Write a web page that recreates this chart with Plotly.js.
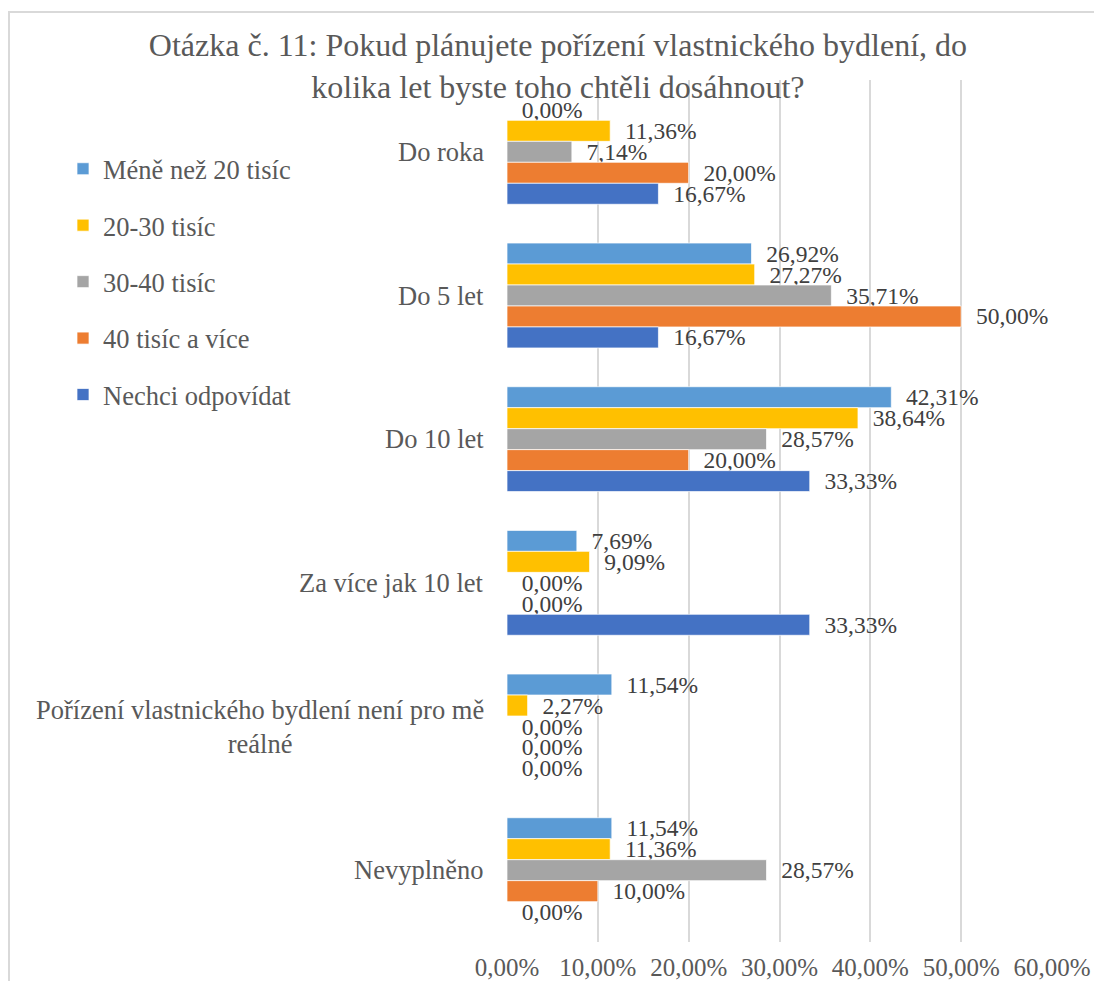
<!DOCTYPE html>
<html><head><meta charset="utf-8">
<script src="https://cdn.plot.ly/plotly-3.0.1.min.js"></script>
<style>
html,body{margin:0;padding:0;background:#fff;overflow:hidden;width:1094px;height:981px}
#frame{position:absolute;left:8px;top:11px;width:1110px;height:1010px;border:2px solid #d9d9d9;box-sizing:border-box}
#chart{position:absolute;left:0;top:0;width:1094px;height:981px}
</style></head><body>
<div id="frame"></div><div id="chart"></div>
<script>
const categories = ["Do roka", "Do 5 let", "Do 10 let", "Za více jak 10 let", "Pořízení vlastnického bydlení není pro mě reálné", "Nevyplněno"];
const categoryLabels = ["Do roka", "Do 5 let", "Do 10 let", "Za více jak 10 let", "Pořízení vlastnického bydlení není pro mě<br>reálné", "Nevyplněno"];
const seriesNames = ["Méně než 20 tisíc", "20-30 tisíc", "30-40 tisíc", "40 tisíc a více", "Nechci odpovídat"];
const seriesColors = ["#5B9BD5", "#FFC000", "#A5A5A5", "#ED7D31", "#4472C4"];
const mene20 = [0.00, 26.92, 42.31, 7.69, 11.54, 11.54];
const t20_30 = [11.36, 27.27, 38.64, 9.09, 2.27, 11.36];
const t30_40 = [7.14, 35.71, 28.57, 0.00, 0.00, 28.57];
const t40plus = [20.00, 50.00, 20.00, 0.00, 0.00, 10.00];
const nechci = [16.67, 16.67, 33.33, 33.33, 0.00, 0.00];
const xTicks = [0, 10, 20, 30, 40, 50, 60];

const seriesValues = [mene20, t20_30, t30_40, t40plus, nechci];
const fmt = v => v.toFixed(2).replace('.', ',') + '%';
const FONT = 'Liberation Serif';

const traces = seriesValues.map((vals, i) => ({
  type: 'bar',
  orientation: 'h',
  name: seriesNames[i],
  legendgroup: 'g' + i,
  x: vals,
  y: categories,
  marker: {color: seriesColors[i], line: {color: 'rgba(255,255,255,0.7)', width: 1}},
  text: vals.map(v => '\u00a0\u00a0' + fmt(v)),
  textposition: 'outside',
  constraintext: 'none',
  cliponaxis: false,
  textfont: {family: FONT, size: 23.5, color: '#404040'},
  hoverinfo: 'x+y+name'
}));

const annotations = categories.map((c, i) => ({
  xref: 'paper', yref: 'y', x: 0, y: c,
  xanchor: 'right', yanchor: 'middle', xshift: -21,
  text: categoryLabels[i], align: 'center', showarrow: false,
  font: {family: FONT, size: 26.5, color: '#595959'}
}));

const layout = {
  width: 1094, height: 981,
  paper_bgcolor: 'rgba(0,0,0,0)', plot_bgcolor: 'rgba(0,0,0,0)',
  margin: {l: 507, r: 42, t: 80, b: 39},
  barmode: 'group', bargap: 0.27, bargroupgap: 0,
  title: {
    text: 'Otázka č. 11: Pokud plánujete pořízení vlastnického bydlení, do<br>kolika let byste toho chtěli dosáhnout?',
    font: {family: FONT, size: 32, color: '#595959'},
    x: 0.51, xanchor: 'center', y: 1 - 56/981, yanchor: 'top', yref: 'container'
  },
  xaxis: {
    range: [0, 60], tickvals: xTicks, ticktext: xTicks.map(fmt),
    showgrid: true, gridcolor: '#d9d9d9', gridwidth: 2,
    zeroline: false, showline: false, ticks: '',
    ticklabelstandoff: 8,
    tickfont: {family: FONT, size: 25, color: '#595959'},
    fixedrange: true
  },
  yaxis: {
    type: 'category', categoryorder: 'array', categoryarray: categories,
    autorange: 'reversed', showticklabels: false, showgrid: false,
    zeroline: false, showline: false, ticks: '', fixedrange: true
  },
  showlegend: true,
  legend: {
    xref: 'container', yref: 'container', x: 63/1094, y: 1 - 145/981,
    xanchor: 'left', yanchor: 'top', traceorder: 'grouped', tracegroupgap: 19,
    font: {family: FONT, size: 26.5, color: '#595959'},
    bgcolor: 'rgba(0,0,0,0)'
  },
  annotations: annotations
};

Plotly.newPlot('chart', traces, layout, {displayModeBar: false, staticPlot: true});
</script>
</body></html>
